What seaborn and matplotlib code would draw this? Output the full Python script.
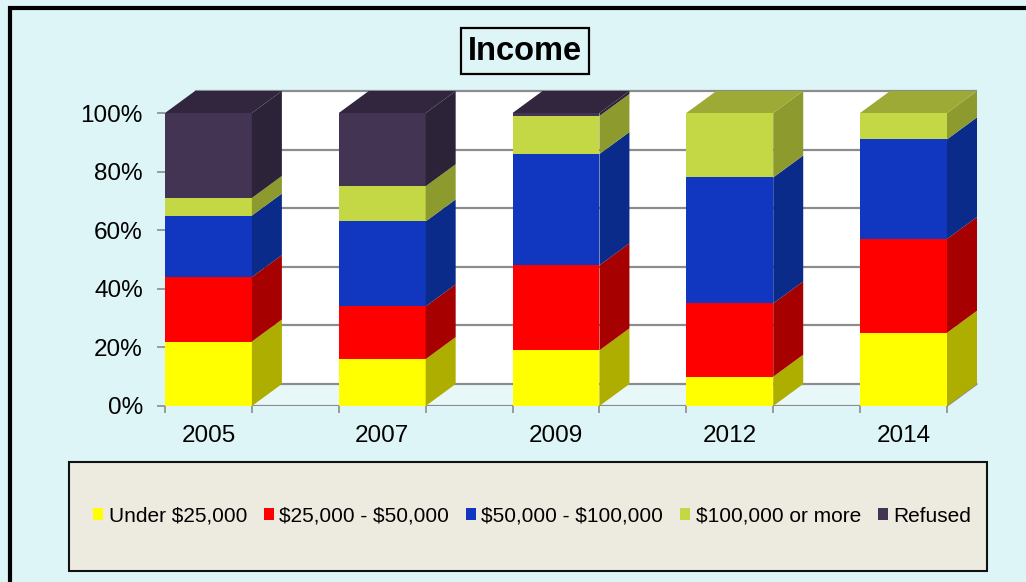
import matplotlib
matplotlib.use("Agg")
import matplotlib.pyplot as plt
import seaborn as sns
from matplotlib.patches import Polygon, Rectangle

# Income distribution by survey year (percent of respondents)
years = ["2005", "2007", "2009", "2012", "2014"]
under_25k = [22, 16, 19, 10, 25]
from_25k_to_50k = [22, 18, 29, 25, 32]
from_50k_to_100k = [21, 29, 38, 43, 34]
over_100k = [6, 12, 13, 22, 9]
refused = [29, 25, 1, 0, 0]
series_labels = ["Under $25,000", "$25,000 - $50,000", "$50,000 - $100,000",
                 "$100,000 or more", "Refused"]
y_ticks = [0, 20, 40, 60, 80, 100]
y_tick_labels = ["0%", "20%", "40%", "60%", "80%", "100%"]

series = [under_25k, from_25k_to_50k, from_50k_to_100k, over_100k, refused]
front_colors = ["#ffff00", "#ff0000", "#1137c0", "#c4d745", "#433453"]
side_colors = ["#aeae00", "#a60000", "#0b2b8a", "#8c9a2e", "#2d2338"]
top_colors = ["#c8c800", "#c40000", "#0e33a8", "#9dab36", "#31263d"]

BG = "#ddf5f7"
GRID = "#8c8c8c"

sns.set_theme(style="white")
plt.rcParams["font.family"] = ["Liberation Sans", "DejaVu Sans"]
plt.rcParams["text.parse_math"] = False
plt.rcParams["text.color"] = "black"
plt.rcParams["xtick.color"] = "black"
plt.rcParams["ytick.color"] = "black"

W, H = 1026, 582
fig = plt.figure(figsize=(W / 100, H / 100), dpi=100, facecolor=BG)

# front plane of the 3-D plot area in pixel terms
left_px, right_px, bottom_px, top_px = 165, 947, 406, 113
ax = fig.add_axes([left_px / W, 1 - bottom_px / H,
                   (right_px - left_px) / W, (bottom_px - top_px) / H])
ax.patch.set_visible(False)
for s in ax.spines.values():
    s.set_visible(False)

n = len(years)
bar_w = 0.5
x_lo, x_hi = -bar_w / 2, n - 1 + bar_w / 2
# depth offset of the 3-D projection, in data units
dx = 30 * (x_hi - x_lo) / (right_px - left_px)
dy = 22 * 100 / (bottom_px - top_px)

# cumulative stack tops
cum = []
run = [0] * n
for vals in series:
    run = [r + v for r, v in zip(run, vals)]
    cum.append(run)

# back wall and floor
ax.add_patch(Rectangle((x_lo + dx, dy), x_hi - x_lo, 100, facecolor="white",
                       edgecolor="none", zorder=0, clip_on=False))
ax.add_patch(Polygon([(x_lo, 0), (x_hi, 0), (x_hi + dx, dy), (x_lo + dx, dy)],
                     closed=True, facecolor="#e8f8f9", edgecolor="none",
                     zorder=0, clip_on=False))
for v in y_ticks:
    ax.plot([x_lo + dx, x_hi + dx], [v + dy, v + dy], color=GRID, lw=1.6,
            zorder=0.5, clip_on=False, solid_capstyle="butt")
ax.plot([x_hi, x_hi + dx], [0, dy], color=GRID, lw=1.2, zorder=0.5, clip_on=False)
ax.axhline(0, color=GRID, lw=1.6, zorder=0.6)

# front faces: cumulative bars drawn from the tallest stack down
handles = {}
for k in range(len(series) - 1, -1, -1):
    before = len(ax.patches)
    sns.barplot(x=years, y=cum[k], color=front_colors[k], saturation=1,
                width=bar_w, linewidth=0, label=series_labels[k], ax=ax,
                zorder=2)
    new = ax.patches[before:]
    handles[k] = new[0]
if ax.get_legend() is not None:
    ax.get_legend().remove()

# side and top faces
for i in range(n):
    x1 = i + bar_w / 2
    x0 = i - bar_w / 2
    top_k = None
    for k in range(len(series)):
        b = cum[k - 1][i] if k > 0 else 0
        t = cum[k][i]
        if t <= b:
            continue
        top_k = k
        ax.add_patch(Polygon([(x1, b), (x1, t), (x1 + dx, t + dy), (x1 + dx, b + dy)],
                             closed=True, facecolor=side_colors[k], edgecolor="none",
                             zorder=2, clip_on=False))
    t = cum[top_k][i]
    ax.add_patch(Polygon([(x0, t), (x1, t), (x1 + dx, t + dy), (x0 + dx, t + dy)],
                         closed=True, facecolor=top_colors[top_k], edgecolor="none",
                         zorder=2, clip_on=False))

ax.set_xlim(x_lo, x_hi)
ax.set_ylim(0, 100)

# category labels centred on bars, tick marks on bar edges
ax.set_xticks(range(n))
ax.set_xticklabels(years, fontsize=17.5, color="black")
ax.set_xticks([i + s * bar_w / 2 for i in range(n) for s in (-1, 1)], minor=True)
ax.tick_params(axis="x", which="major", length=0, pad=14)
ax.tick_params(axis="x", which="minor", length=5, width=1.2, color=GRID, bottom=True)
ax.set_yticks(y_ticks)
ax.set_yticklabels(y_tick_labels, fontsize=17.5, color="black")
ax.tick_params(axis="y", length=5.5, width=1.2, color=GRID, left=True, pad=10.5)
ax.set_xlabel("")
ax.set_ylabel("")
ax.grid(False)

# title in a framed box
fig.add_artist(Rectangle((461 / W, 1 - 74 / H), 128 / W, 46 / H,
                         transform=fig.transFigure, facecolor="none",
                         edgecolor="black", lw=1.6))
fig.text(525 / W, 1 - 52 / H, "Income", fontsize=23.5, fontweight="bold",
         ha="center", va="center", color="black")

# legend panel
fig.add_artist(Rectangle((69 / W, 1 - 571 / H), (987 - 69) / W, (571 - 462) / H,
                         transform=fig.transFigure, facecolor="#edeae0",
                         edgecolor="#111111", lw=1.5, zorder=1))
leg = fig.legend([handles[k] for k in range(len(series))], series_labels,
                 loc="center", bbox_to_anchor=(532 / W, 1 - 516 / H), ncol=5,
                 frameon=False, fontsize=15, handlelength=0.5, handleheight=0.5,
                 handletextpad=0.25, columnspacing=0.8, labelcolor="black")
leg.set_zorder(2)

# outer chart border
fig.add_artist(Rectangle((9.5 / W, -0.1), 1.2, 1.1 - 8 / H,
                         transform=fig.transFigure, facecolor="none",
                         edgecolor="black", lw=3))

fig.savefig("out.png", dpi=100, facecolor=BG)
